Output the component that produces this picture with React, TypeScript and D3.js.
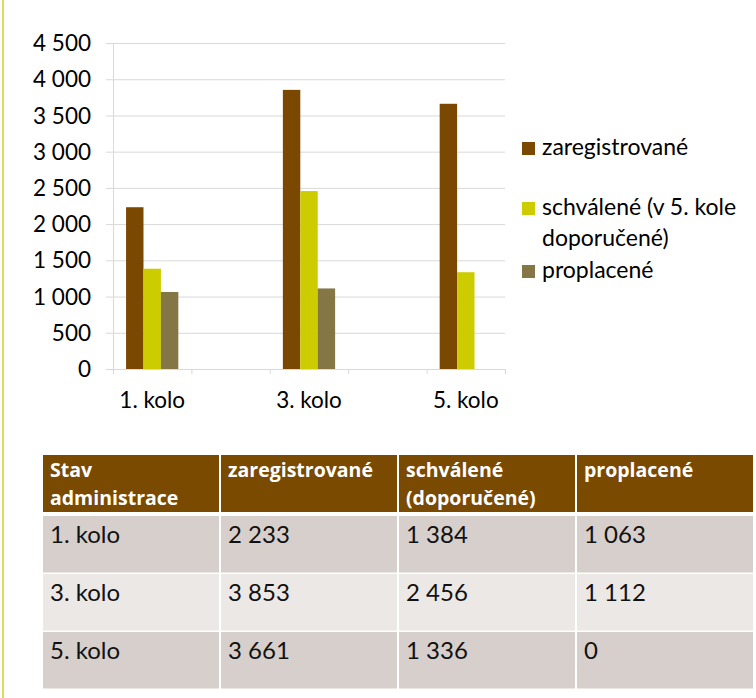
import React from 'react';
import * as d3 from 'd3';

// hodnoty z tabulky
const xSlots = ['1. kolo', '2. kolo', '3. kolo', '4. kolo', '5. kolo'];
const xTickLabels = ['1. kolo', '', '3. kolo', '', '5. kolo'];
const rounds = ['1. kolo', '3. kolo', '5. kolo'];
const zaregistrovane = [2233, 3853, 3661];
const schvalene = [1384, 2456, 1336];
const proplacene = [1063, 1112, 0];
const yTicks = [0, 500, 1000, 1500, 2000, 2500, 3000, 3500, 4000, 4500];

const seriesNames = ['zaregistrované', 'schválené (v 5. kole doporučené)', 'proplacené'];
const legendLines = [['zaregistrované'], ['schválené (v 5. kole', 'doporučené)'], ['proplacené']];
const colors = ['#7a4800', '#cccc00', '#857645'];

const headerLines = [['Stav', 'administrace'], ['zaregistrované'], ['schválené', '(doporučené)'], ['proplacené']];

const W = 756;
const H = 698;
const font = 'Lato, "Open Sans", sans-serif';
const headFont = '"Open Sans", Lato, sans-serif';

const fmt = d3.formatLocale({ decimal: ',', thousands: ' ', grouping: [3], currency: ['', ''] }).format(',d');

const App = () => {
  const x = d3.scaleBand().domain(xSlots).range([113, 505]);
  const y = d3.scaleLinear().domain([0, 4500]).range([369, 43]);
  const bw = x.bandwidth() / 4.5; // mezera 150 %
  const series = [zaregistrovane, schvalene, proplacene];

  // tabulka
  const tX = d3.scaleBand().domain(d3.range(4).map(String)).range([43, 755]);
  const rowTop = d3.scaleBand().domain(rounds).range([516, 690]);
  const rowFill = ['#d6cfcb', '#ebe8e6', '#d6cfcb'];

  return (
    <svg width={W} height={H} style={{ position: 'absolute', left: 0, top: 0, background: '#fff' }} fontFamily={font}>
      <line x1={3} x2={3} y1={0} y2={H} stroke="#dcdc5a" strokeWidth={2} />

      {/* mřížka a osa Y */}
      {yTicks.map(t => (
        <g key={t}>
          <line x1={106} x2={505} y1={y(t) + 0.5} y2={y(t) + 0.5} stroke="#d9d9d9" />
          <text x={91} y={y(t)} dy="0.36em" textAnchor="end" fontSize={22.5} fill="#000">{fmt(t)}</text>
        </g>
      ))}
      <line x1={113.5} x2={113.5} y1={y(4500)} y2={y(0)} stroke="#d9d9d9" />

      {/* osa X */}
      {xSlots.map((s, i) => (
        <g key={s}>
          <line x1={x(s)! + 0.5} x2={x(s)! + 0.5} y1={y(0)} y2={y(0) + 5} stroke="#d9d9d9" />
          <text x={x(s)! + x.bandwidth() / 2} y={408} textAnchor="middle" fontSize={22.5} fill="#000">{xTickLabels[i]}</text>
        </g>
      ))}
      <line x1={505.5} x2={505.5} y1={y(0)} y2={y(0) + 5} stroke="#d9d9d9" />

      {/* sloupce */}
      {series.map((vals, si) =>
        rounds.map((r, ri) => {
          const x0 = x(r)! + (x.bandwidth() - 3 * bw) / 2 + si * bw;
          return (
            <rect key={`${si}-${r}`} x={x0} y={y(vals[ri])} width={bw} height={y(0) - y(vals[ri])} fill={colors[si]}>
              <title>{seriesNames[si]}</title>
            </rect>
          );
        })
      )}

      {/* legenda */}
      {[142, 202, 265].map((top, i) => (
        <g key={i}>
          <rect x={522} y={top} width={13} height={13} fill={colors[i]} />
          {legendLines[i].map((ln, li) => (
            <text key={li} x={542} y={top + 13 + li * 31} fontSize={23} fill="#000">{ln}</text>
          ))}
        </g>
      ))}

      {/* tabulka */}
      {headerLines.map((lines, ci) => (
        <g key={ci}>
          <rect x={tX(String(ci))} y={455} width={tX.bandwidth() - 2} height={57} fill="#7a4a00" />
          {lines.map((ln, li) => (
            <text key={li} x={tX(String(ci))! + 7} y={477 + li * 28} fontSize={19.5} fontFamily={headFont} fontWeight="bold" fill="#fff">{ln}</text>
          ))}
        </g>
      ))}
      {rounds.map((r, ri) => {
        const cells = [r, fmt(zaregistrovane[ri]), fmt(schvalene[ri]), fmt(proplacene[ri])];
        return (
          <g key={r}>
            {cells.map((c, ci) => (
              <g key={ci}>
                <rect x={tX(String(ci))} y={rowTop(r)} width={tX.bandwidth() - 2} height={rowTop.bandwidth() - 1.5} fill={rowFill[ri]} />
                <text x={tX(String(ci))! + 7} y={rowTop(r)! + 27} fontSize={24} fill="#111">{c}</text>
              </g>
            ))}
          </g>
        );
      })}
    </svg>
  );
};

export default App;
